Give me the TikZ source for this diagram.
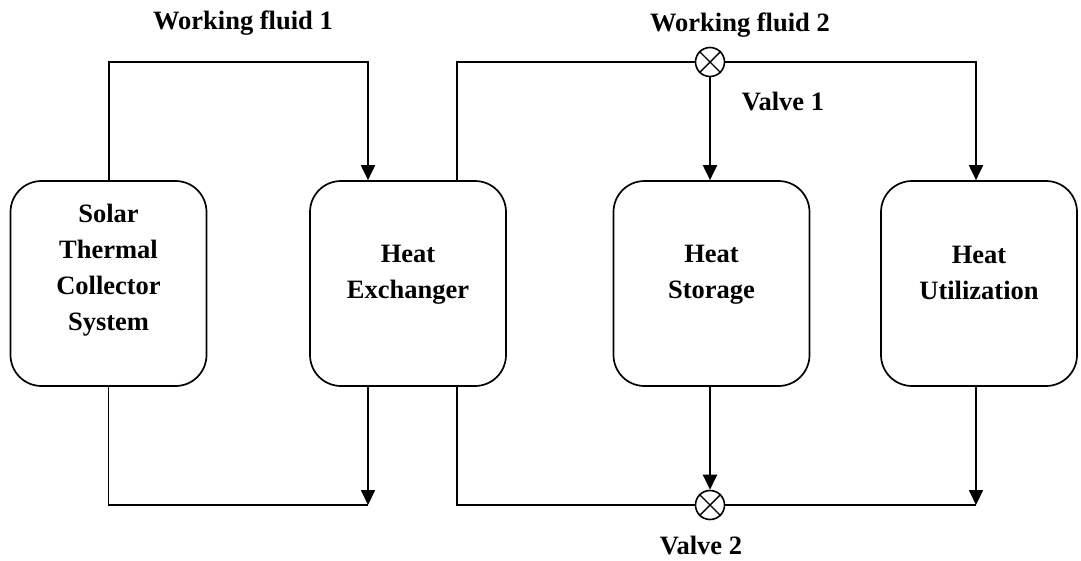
\documentclass[tikz,border=0pt]{standalone}
\usepackage{fontspec}
\setmainfont{Liberation Serif}
\usetikzlibrary{arrows.meta}
\begin{document}
\begin{tikzpicture}[x=1pt,y=-1pt,
  block/.style={draw, line width=1.7pt, rounded corners=31pt,
    minimum width=196pt, minimum height=205pt, inner sep=0pt},
  lbl/.style={font=\fontsize{26.5}{36}\selectfont\bfseries, align=center, inner sep=0pt},
  pipe/.style={line width=1.7pt},
  flow/.style={line width=2pt, -{Triangle[length=15pt,width=14pt]}},
  valve/.style={draw, circle, line width=1.6pt, minimum size=29pt, inner sep=0pt}
]
\useasboundingbox (0,0) rectangle (1081,560);

% process blocks
\node[block] (solar) at (108.5,283.5) {};
\node[block] (hx)    at (408,283.5) {};
\node[block] (hs)    at (711.5,283.5) {};
\node[block] (hu)    at (979,283.5) {};

\node[lbl] (solarT) at (108.5,270) {Solar\\Thermal\\Collector\\System};
\node[lbl] (hxT) at (408,275) {Heat\\Exchanger};
\node[lbl] (hsT) at (711.5,275) {Heat\\Storage};
\node[lbl] (huT) at (979,273) {Heat\\Utilization};

% valves
\node[valve] (v1) at (710,62) {};
\node[valve] (v2) at (710,505) {};
\foreach \v in {v1,v2}{
  \draw[line width=1.4pt] (\v.north west) -- (\v.south east);
  \draw[line width=1.4pt] (\v.north east) -- (\v.south west);
}

% text labels
\node[lbl] (wf1) at (243,23) {Working fluid 1};
\node[lbl] (wf2) at (740,25) {Working fluid 2};
\node[lbl] (v1T) at (783,102) {Valve 1};
\node[lbl] (v2T) at (701,545) {Valve 2};

% loop of working fluid 1
\coordinate (t1) at (368,62);
\coordinate (b1) at (368,505);
\draw[flow] (solar.north) |- (t1) -- (t1 |- hx.north);
\draw[pipe] (solar.south) |- (b1);
\draw[flow] (b1 |- hx.south) -- (b1);

% loop of working fluid 2
\coordinate (hxr) at (457,181);
\coordinate (hxrb) at (457,386);
\coordinate (t2) at (976,62);
\coordinate (b2) at (976,505);
\draw[pipe] (hxr) |- (v1.west);
\draw[flow] (v1.east) -- (t2) -- (t2 |- hu.north);
\draw[flow] (v1.south) -- (v1.south |- hs.north);
\draw[pipe] (hxrb) |- (v2.west);
\draw[pipe] (v2.east) -- (b2);
\draw[flow] (b2 |- hu.south) -- (b2);
\draw[flow] (v2 |- hs.south) -- (v2.north);
\end{tikzpicture}
\end{document}
